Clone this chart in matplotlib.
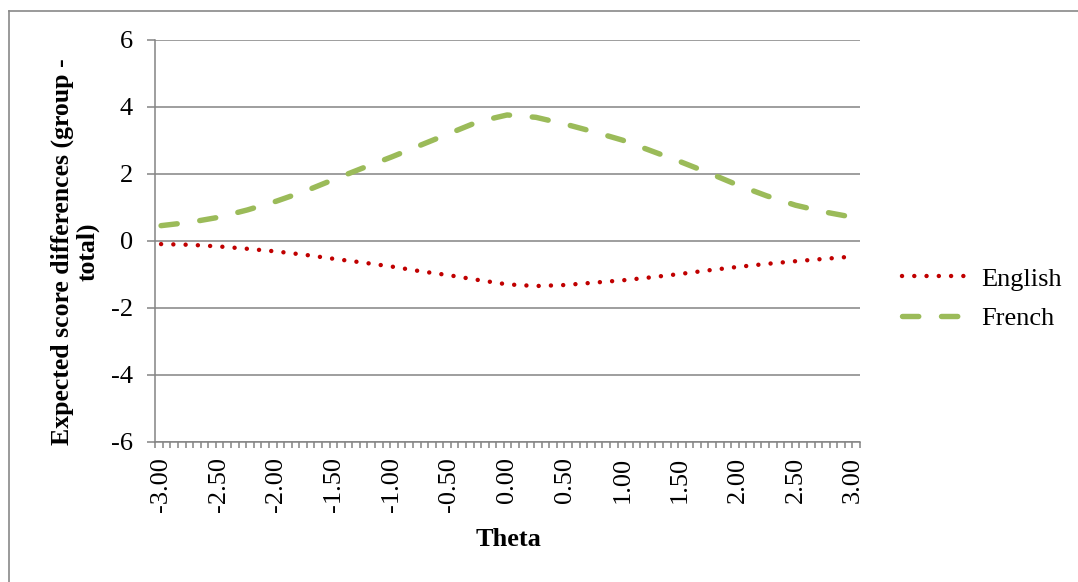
import numpy as np
import matplotlib
matplotlib.use("Agg")
import matplotlib.pyplot as plt
from matplotlib.lines import Line2D

plt.rcParams['font.family'] = ['Liberation Serif', 'DejaVu Serif']

theta = [-3.0, -2.75, -2.5, -2.25, -2.0, -1.75, -1.5, -1.25, -1.0, -0.75, -0.5, -0.25,
         0.0, 0.25, 0.5, 0.75, 1.0, 1.25, 1.5, 1.75, 2.0, 2.25, 2.5, 2.75, 3.0]
english = [-0.10, -0.12, -0.17, -0.24, -0.32, -0.42, -0.54, -0.65, -0.77, -0.91, -1.03, -1.17,
           -1.30, -1.35, -1.32, -1.25, -1.18, -1.09, -0.99, -0.88, -0.78, -0.69, -0.61, -0.54, -0.47]
french = [0.45, 0.55, 0.70, 0.92, 1.18, 1.48, 1.83, 2.17, 2.50, 2.85, 3.20, 3.55,
          3.75, 3.68, 3.48, 3.25, 3.00, 2.68, 2.36, 2.02, 1.66, 1.34, 1.06, 0.86, 0.70]
xtick_vals = [-3.0, -2.5, -2.0, -1.5, -1.0, -0.5, 0.0, 0.5, 1.0, 1.5, 2.0, 2.5, 3.0]
ytick_vals = [-6, -4, -2, 0, 2, 4, 6]

W, H = 1078, 582
fig = plt.figure(figsize=(W / 100, H / 100), dpi=100)
ax = fig.add_axes([155.3 / W, 1 - 442 / H, (860 - 155.3) / W, (442 - 39.5) / H])

grey = '#848484'
xlo, xhi = -3.05, 3.06
ax.set_xlim(xlo, xhi)
ax.set_ylim(-6, 6)

for v in ytick_vals:
    ax.axhline(v, color=grey, lw=1.1, zorder=1)

red = '#C00000'
green = '#9BBB59'
l1, = ax.plot(theta, english, color=red, lw=3.2, linestyle=(0, (0.01, 2.75)),
              dash_capstyle='round', solid_capstyle='round', label='English', zorder=3)
l2, = ax.plot(theta, french, color=green, lw=3.9, linestyle=(0, (3.0, 4.2)),
              dash_capstyle='round', label='French', zorder=3)

for s in ['top', 'right']:
    ax.spines[s].set_visible(False)
for s in ['left', 'bottom']:
    ax.spines[s].set_color(grey)
    ax.spines[s].set_linewidth(1.1)

ax.set_yticks(ytick_vals)
ax.set_yticklabels([str(v) for v in ytick_vals])
ax.tick_params(axis='y', direction='out', length=6, width=1.1, color=grey,
               labelsize=19, pad=10)

ax.set_xticks(xtick_vals)
ax.set_xticklabels([f"{v:.2f}" for v in xtick_vals], rotation=90)
ax.tick_params(axis='x', which='major', length=0, labelsize=19, pad=11)
ax.set_xticks(np.linspace(xlo, xhi, 94), minor=True)
ax.tick_params(axis='x', which='minor', direction='out', length=4.2, width=1.1, color=grey)

fig.text(75 / W, 1 - 252 / H, 'Expected score differences (group -\ntotal)',
         rotation=90, ha='center', va='center', multialignment='center',
         fontsize=18.5, fontweight='bold', linespacing=1.15)
fig.text(508 / W, 1 - 540 / H, 'Theta', ha='center', va='center',
         fontsize=19, fontweight='bold')

fig.legend(handles=[l1, l2], loc='center left', bbox_to_anchor=(902 / W, 1 - 298.5 / H),
           frameon=False, fontsize=19, handlelength=2.5, handletextpad=0.5,
           labelspacing=0.6, borderpad=0, borderaxespad=0)

fig.add_artist(Line2D([8.5 / W, 8.5 / W], [0, 1 - 11 / H], transform=fig.transFigure,
                      color='#898989', lw=1.2))
fig.add_artist(Line2D([8.5 / W, 1], [1 - 11 / H, 1 - 11 / H], transform=fig.transFigure,
                      color='#898989', lw=1.2))

fig.savefig('out.png', dpi=100)
